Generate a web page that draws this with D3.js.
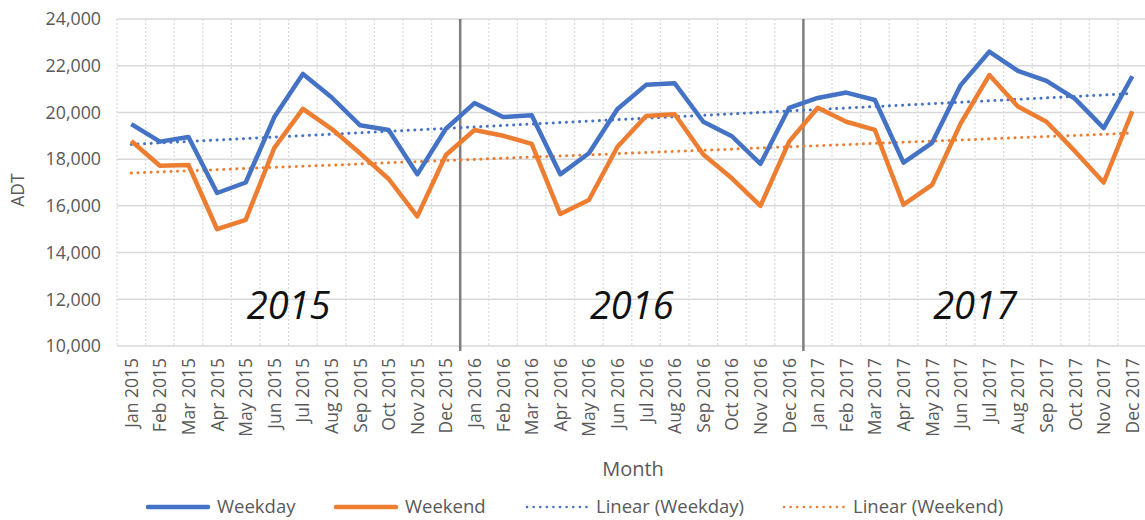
<!DOCTYPE html>
<html><head><meta charset="utf-8">
<script src="https://cdn.jsdelivr.net/npm/d3@7/dist/d3.min.js"></script>
<style>body{margin:0;background:#fff;}svg{display:block;font-family:"Open Sans",Lato,sans-serif;}</style>
</head><body><svg id="c" width="1145" height="520"></svg>
<script>
const months = ["Jan","Feb","Mar","Apr","May","Jun","Jul","Aug","Sep","Oct","Nov","Dec"];
const years = ["2015","2016","2017"];
const categories = years.flatMap(y => months.map(m => m + " " + y));
const weekday = [19500,18750,18950,16550,17000,19800,21650,20650,19450,19250,17350,19300,
                 20400,19800,19880,17350,18250,20150,21180,21250,19600,18980,17800,20200,
                 20620,20850,20530,17850,18700,21170,22600,21780,21350,20580,19330,21550];
const weekend = [18780,17720,17750,15000,15400,18480,20150,19300,18250,17150,15550,18180,
                 19250,19000,18650,15650,16250,18530,19850,19920,18200,17180,16000,18750,
                 20200,19600,19250,16050,16900,19530,21600,20250,19600,18330,17000,20050];
const yTicks = [10000,12000,14000,16000,18000,20000,22000,24000];
const seriesNames = ["Weekday","Weekend","Linear (Weekday)","Linear (Weekend)"];

const svg = d3.select("#c");
const L = 117, R = 1146.6, T = 19, B = 346;
const x = d3.scaleBand().domain(categories).range([L, R]).padding(0);
const y = d3.scaleLinear().domain([10000,24000]).range([B, T]);
const blue = "#4472C4", orange = "#ED7D31", grid = "#d9d9d9", txt = "#595959";

// vertical dotted gridlines at category boundaries
svg.append("g").selectAll("line").data(categories).join("line")
  .attr("x1", d => x(d)).attr("x2", d => x(d)).attr("y1", T).attr("y2", B)
  .attr("stroke", grid).attr("stroke-width", 1.2).attr("stroke-dasharray", "2,2");
// horizontal gridlines
svg.append("g").selectAll("line").data(yTicks).join("line")
  .attr("x1", L).attr("x2", 1145).attr("y1", d => y(d)).attr("y2", d => y(d))
  .attr("stroke", grid).attr("stroke-width", 1.5);

// year dividers
[12, 24].forEach(i => {
  svg.append("line").attr("x1", x(categories[i])).attr("x2", x(categories[i]))
    .attr("y1", T).attr("y2", B + 5).attr("stroke", "#7f7f7f").attr("stroke-width", 2.5);
});

// y axis labels
svg.append("g").selectAll("text").data(yTicks).join("text")
  .attr("x", 101).attr("y", d => y(d)).attr("dy", "0.35em").attr("text-anchor", "end")
  .attr("fill", txt).attr("font-size", 17.8).text(d => d3.format(",")(d));

// x axis labels
svg.append("g").selectAll("text").data(categories).join("text")
  .attr("transform", d => `translate(${x(d) + x.bandwidth()/2 + 6.5},358) rotate(-90)`)
  .attr("text-anchor", "end").attr("fill", txt).attr("font-size", 17.5).text(d => d);

// axis titles
svg.append("text").attr("transform", "translate(24,190) rotate(-90)").attr("text-anchor", "middle")
  .attr("fill", txt).attr("font-size", 17.5).text("ADT");
svg.append("text").attr("x", 633).attr("y", 476).attr("text-anchor", "middle")
  .attr("fill", txt).attr("font-size", 20).text("Month");

// year labels
years.forEach((yr, i) => {
  const a = x(categories[i*12]), b = x(categories[i*12+11]) + x.bandwidth();
  svg.append("text").attr("x", (a+b)/2).attr("y", 319).attr("text-anchor", "middle")
    .attr("font-size", 38).attr("font-style", "italic").attr("fill", "#111").text(yr);
});

// linear trends (least squares)
function trend(vals) {
  const n = vals.length, xs = d3.range(1, n+1);
  const mx = d3.mean(xs), my = d3.mean(vals);
  const b = d3.sum(xs, (xi,i) => (xi-mx)*(vals[i]-my)) / d3.sum(xs, xi => (xi-mx)**2);
  const a = my - b*mx;
  return [a + b*1, a + b*n];
}
const cx = d => x(d) + x.bandwidth()/2;
[[weekday, blue], [weekend, orange]].forEach(([v, col]) => {
  const t = trend(v);
  svg.append("line").attr("x1", cx(categories[0])).attr("x2", cx(categories[35]))
    .attr("y1", y(t[0])).attr("y2", y(t[1])).attr("stroke", col)
    .attr("stroke-width", 3).attr("stroke-dasharray", "0.1,6.5").attr("stroke-linecap", "round");
});

// series lines
const line = d3.line().x((d,i) => cx(categories[i])).y(d => y(d));
[[weekend, orange], [weekday, blue]].forEach(([v, col]) => {
  svg.append("path").attr("d", line(v)).attr("fill", "none").attr("stroke", col)
    .attr("stroke-width", 4.5).attr("stroke-linejoin", "round");
});

// legend
const leg = [
  {name: seriesNames[0], col: blue, dotted: false, x: 148},
  {name: seriesNames[1], col: orange, dotted: false, x: 336},
  {name: seriesNames[2], col: blue, dotted: true, x: 527},
  {name: seriesNames[3], col: orange, dotted: true, x: 784}
];
leg.forEach(l => {
  const g = svg.append("g");
  g.append("line").attr("x1", l.x).attr("x2", l.x + 60).attr("y1", 507).attr("y2", 507)
    .attr("stroke", l.col).attr("stroke-width", l.dotted ? 2.5 : 4.5)
    .attr("stroke-linecap", "round").attr("stroke-dasharray", l.dotted ? "0.1,6.5" : null);
  g.append("text").attr("x", l.x + 69).attr("y", 507).attr("dy", "0.35em")
    .attr("fill", txt).attr("font-size", 18.5).text(l.name);
});
</script></body></html>
